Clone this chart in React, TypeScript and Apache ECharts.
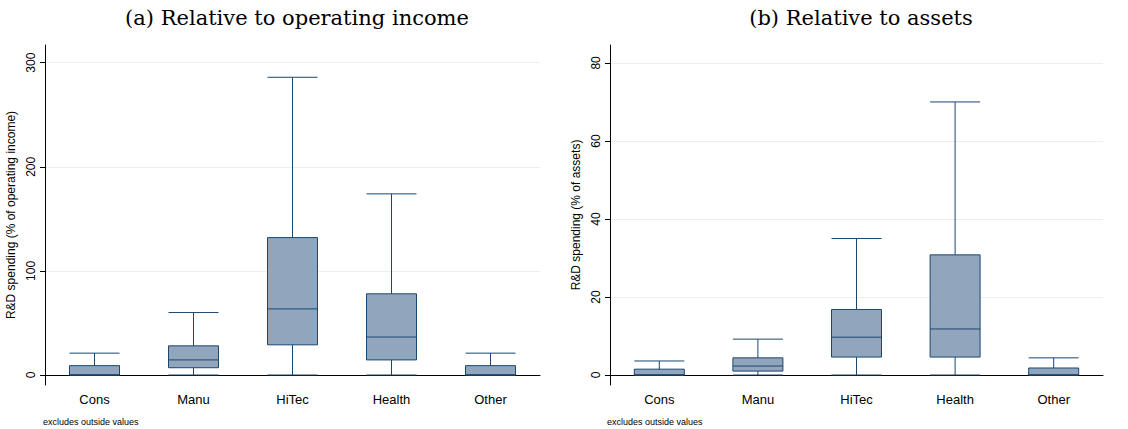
import { useEffect, useRef } from 'react';
import * as echarts from 'echarts';

const categories = ['Cons', 'Manu', 'HiTec', 'Health', 'Other'];
// [min, q1, median, q3, max]
const incomeBoxes = [
    [0, 0, 0, 9, 21],
    [0, 7, 14.5, 28, 60],
    [0, 29, 63.5, 132, 286],
    [0, 14.5, 36.5, 78, 174],
    [0, 0, 0, 9, 21],
];
const assetsBoxes = [
    [0, 0, 0, 1.5, 3.6],
    [0, 1, 2.3, 4.4, 9.2],
    [0, 4.6, 9.7, 16.8, 35],
    [0, 4.6, 11.8, 30.8, 70],
    [0, 0, 0, 1.8, 4.4],
];
const incomeTicks = [0, 100, 200, 300];
const assetsTicks = [0, 20, 40, 60, 80];

const sans = 'Liberation Sans';
const serif = 'DejaVu Serif';

function panel(idx: number, data: number[][], ticks: number[], min: number, max: number, name: string) {
    return {
        grid: { left: idx === 0 ? 45 : 610, width: idx === 0 ? 495 : 493, top: 45, bottom: 44 },
        xAxis: {
            type: 'category', gridIndex: idx, data: categories,
            axisLine: { lineStyle: { color: '#000' } },
            axisTick: { alignWithLabel: true, length: 5, lineStyle: { color: '#000' } },
            axisLabel: { color: '#000', fontFamily: sans, fontSize: 13, margin: 8 },
            splitLine: { show: false },
        },
        yAxis: {
            type: 'value', gridIndex: idx, min, max,
            name, nameLocation: 'middle', nameGap: 28,
            nameTextStyle: { color: '#000', fontFamily: sans, fontSize: 12 },
            axisLine: { show: true, lineStyle: { color: '#000' } },
            axisTick: { show: true, length: 5, customValues: ticks, lineStyle: { color: '#000' } },
            axisLabel: { color: '#000', fontFamily: sans, fontSize: 12, rotate: 90, margin: 8, customValues: ticks },
            splitLine: { show: false },
        },
        series: {
            type: 'boxplot', xAxisIndex: idx, yAxisIndex: idx, data,
            boxWidth: [50, 50],
            itemStyle: { color: '#91a6bd', borderColor: '#1a476f', borderWidth: 1 },
            markLine: {
                silent: true, symbol: 'none', label: { show: false },
                lineStyle: { color: '#eaf0f4', type: 'solid', width: 1 },
                data: ticks.map((t) => ({ yAxis: t })),
                z: 0,
            },
            z: 3,
        },
    };
}

export default function App() {
    const ref = useRef<HTMLDivElement>(null);
    useEffect(() => {
        if (!ref.current) return;
        const chart = echarts.init(ref.current, null, { renderer: 'svg' });
        const a = panel(0, incomeBoxes, incomeTicks, -9.6, 317, 'R&D spending (% of operating income)');
        const b = panel(1, assetsBoxes, assetsTicks, -2.56, 84.6, 'R&D spending (% of assets)');
        chart.setOption({
            animation: false,
            backgroundColor: '#fff',
            title: [
                { text: '(a) Relative to operating income', left: 292, top: 2, textAlign: 'center',
                  textStyle: { fontFamily: serif, fontWeight: 'normal', fontSize: 21, color: '#000' } },
                { text: '(b) Relative to assets', left: 856, top: 2, textAlign: 'center',
                  textStyle: { fontFamily: serif, fontWeight: 'normal', fontSize: 21, color: '#000' } },
                { text: 'excludes outside values', left: 38, top: 412,
                  textStyle: { fontFamily: sans, fontWeight: 'normal', fontSize: 9, color: '#000' } },
                { text: 'excludes outside values', left: 602, top: 412,
                  textStyle: { fontFamily: sans, fontWeight: 'normal', fontSize: 9, color: '#000' } },
            ],
            grid: [a.grid, b.grid],
            xAxis: [a.xAxis, b.xAxis],
            yAxis: [a.yAxis, b.yAxis],
            series: [a.series, b.series],
        });
        return () => chart.dispose();
    }, []);
    return <div ref={ref} style={{ width: 1128, height: 429, position: 'absolute', left: 0, top: 0 }} />;
}
